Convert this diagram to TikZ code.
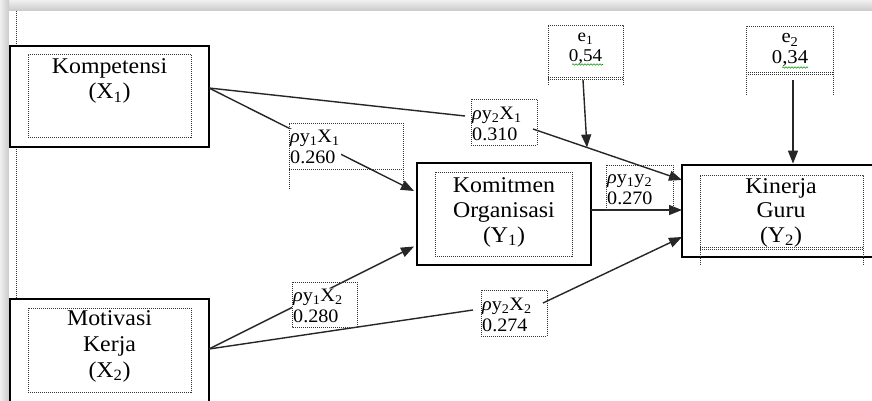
\documentclass[tikz,border=0pt]{standalone}
\usepackage{fontspec}
\setmainfont{Liberation Serif}[FakeStretch=1.06]
\usetikzlibrary{arrows.meta,decorations.pathmorphing}

\tikzset{
 bigbox/.style={draw=black, line width=2.8pt, fill=white, inner sep=0pt},
 dotbox/.style={draw=black!80, dash pattern=on 1pt off 1pt, line width=0.9pt},
 conn/.style={draw=black!85, line width=1.4pt},
 arr/.style={conn, -{Triangle[length=13pt,width=10pt]}},
 maintext/.style={align=center, inner sep=0pt, anchor=base, font=\fontsize{22.5}{25}\selectfont},
 coefftext/.style={align=left, inner sep=1pt, fill=white, anchor=base west, font=\fontsize{19}{20.5}\selectfont},
 etext/.style={align=center, inner sep=0pt, anchor=base, font=\fontsize{18}{20}\selectfont},
 squig/.style={draw=green!60!black, line width=0.6pt, decorate, decoration={snake,amplitude=0.7pt,segment length=3pt}},
}
\newcommand{\rh}{\textit{ρ}}

\begin{document}
\begin{tikzpicture}[x=1pt,y=-1pt]
\clip (0,0) rectangle (872,401);
% page shadow
\fill[gray!30] (0,0) rectangle (872,401);
\shade[top color=gray!12, bottom color=gray!42] (0,0) rectangle (872,11);
\shade[left color=gray!12, right color=gray!42] (0,0) rectangle (9,401);
\fill[white] (9,11) rectangle (872,401);
% left dotted margin line
\draw[dotbox] (16,11) -- (16,401);

% main boxes (text nodes anchored at the baseline of their last line)
\node[bigbox, minimum width=199pt, minimum height=101pt] (komp) at (109.5,96.5) {};
\node[dotbox, inner sep=0pt, minimum width=163pt, minimum height=83pt] (kompin) at (109.5,95.5) {};
\node[maintext] (kompt) at (109.5,99) {Kompetensi\\(X\textsubscript{1})};

\node[bigbox, minimum width=199pt, minimum height=111pt] (moti) at (109.5,354.5) {};
\node[dotbox, inner sep=0pt, minimum width=163pt, minimum height=84pt] (motiin) at (109.5,350) {};
\node[maintext, font=\fontsize{22.5}{26}\selectfont] (motit) at (109.5,377) {Motivasi\\Kerja\\(X\textsubscript{2})};

\node[bigbox, minimum width=174pt, minimum height=102pt] (komit) at (504,214) {};
\node[dotbox, inner sep=0pt, minimum width=137pt, minimum height=84pt] (komitin) at (503.5,214) {};
\node[maintext] (komitt) at (504,242) {Komitmen\\Organisasi\\(Y\textsubscript{1})};

\node[bigbox, minimum width=203pt, minimum height=92pt] (kin) at (783.5,211) {};
\draw[dotbox] (700,265) -- (700,175) -- (863,175) -- (863,265);
\draw[dotbox] (700,247) -- (863,247);
\draw[dotbox] (700,249.5) -- (863,249.5);
\node[maintext, font=\fontsize{22.5}{24.5}\selectfont] (kint) at (781,242) {Kinerja\\Guru\\(Y\textsubscript{2})};

% error terms
\draw[dotbox] (548,85) -- (548,25) -- (623,25) -- (623,85);
\draw[dotbox] (548,77.5) -- (623,77.5);
\draw[dotbox] (548,79.5) -- (623,79.5);
\node[etext] (e1) at (585.5,61.5) {e\textsubscript{1}\\0,54};
\draw[squig] (572,64.5) -- (603,64.5);

\draw[dotbox] (746,95) -- (746,26) -- (833,26) -- (833,95);
\draw[dotbox] (746,72.5) -- (833,72.5);
\draw[dotbox] (746,74.5) -- (833,74.5);
\node[etext, font=\fontsize{19.5}{21}\selectfont] (e2) at (790,64) {e\textsubscript{2}\\0,34};
\draw[squig] (782,67.5) -- (808,67.5);

% connection points
\coordinate (kompR) at (209,88);
\coordinate (motiR) at (209,349);
\coordinate (komitA) at (414,191);
\coordinate (komitB) at (414,246.5);
\coordinate (komitR) at (591,210);
\coordinate (kinA) at (682,180);
\coordinate (kinB) at (682,210);
\coordinate (kinC) at (682,237);
\coordinate (pA) at (465,116);
\coordinate (pB) at (533,129);
\coordinate (pC) at (473,310);
\coordinate (pD) at (543,303);
\coordinate (e1S) at (583,80);
\coordinate (e1T) at (587,147.5);
\coordinate (e2S) at (793,80);

% connectors
\draw[arr] (kompR) -- (komitA);
\draw[conn] (kompR) -- (pA);
\draw[arr] (pB) -- (kinA);
\draw[arr] (motiR) -- (komitB);
\draw[conn] (motiR) -- (pC);
\draw[arr] (pD) -- (kinC);
\draw[arr] (komitR) -- (kinB);
\draw[arr] (e1S) -- (e1T);
\draw[arr] (e2S) -- (kin.north -| e2S);

% coefficient labels (anchored at the baseline of their second line)
\node[coefftext] (l1) at (289,163) {\rh y\textsubscript{1}X\textsubscript{1}\\0.260};
\draw[dotbox] (289,189) -- (289,123) -- (403,123) -- (403,189);
\draw[dotbox] (289,169) -- (403,169);

\node[coefftext] (l2) at (471,140) {\rh y\textsubscript{2}X\textsubscript{1}\\0.310};
\draw[dotbox] (471,99) rectangle (537,145);

\node[coefftext, fill=none] (l3) at (606,204) {\rh y\textsubscript{1}y\textsubscript{2}\\0.270};
\draw[dotbox] (606,165) rectangle (673,210);

\node[coefftext] (l4) at (292,322) {\rh y\textsubscript{1}X\textsubscript{2}\\0.280};
\draw[dotbox] (292,282) rectangle (357,327);

\node[coefftext] (l5) at (481,331) {\rh y\textsubscript{2}X\textsubscript{2}\\0.274};
\draw[dotbox] (481,290) rectangle (547,336);
\end{tikzpicture}
\end{document}
